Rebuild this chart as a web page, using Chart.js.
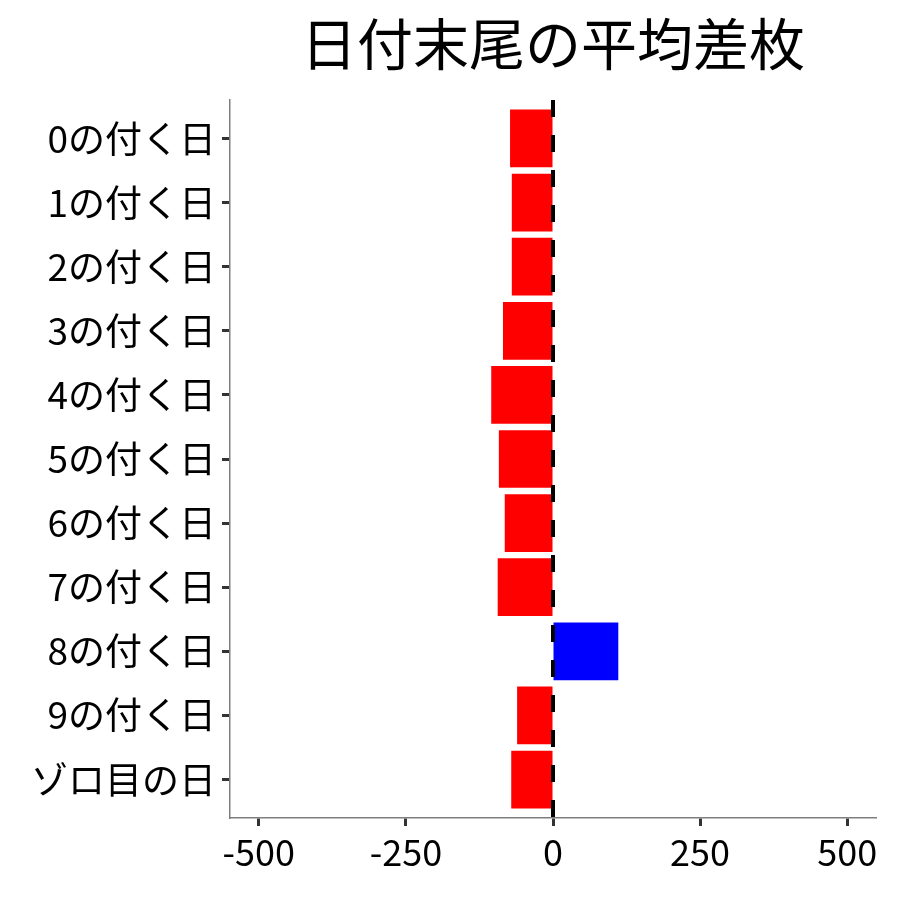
<!DOCTYPE html>
<html>
<head>
<meta charset="utf-8">
<script src="https://cdn.jsdelivr.net/npm/chart.js@4"></script>
<style>
  body { margin: 0; background: #fff; }
  #wrap { width: 900px; height: 900px; }
</style>
</head>
<body>
<div id="wrap"><canvas id="myChart" width="900" height="900"></canvas></div>
<script>
// data
var labels = ["0の付く日", "1の付く日", "2の付く日", "3の付く日", "4の付く日",
              "5の付く日", "6の付く日", "7の付く日", "8の付く日", "9の付く日", "ゾロ目の日"];
var diffValues = [-73, -70, -70, -85, -105, -92, -82, -94, 111, -61, -71];
var xTicks = [-500, -250, 0, 250, 500];
var titleText = "日付末尾の平均差枚";

var FONT = "'Noto Sans CJK JP', 'Noto Sans', sans-serif";

var barColors = diffValues.map(function(v){ return v < 0 ? "#FF0000" : "#0000FF"; });

// title centred over the plot area, like ggplot does
var titlePlugin = {
    id: 'plotTitle',
    afterDraw: function(chart){
        var c = chart.ctx, a = chart.chartArea;
        c.save();
        c.font = "56px " + FONT;
        c.fillStyle = "#000";
        c.textAlign = "center";
        c.textBaseline = "middle";
        c.fillText(titleText, (a.left + a.right) / 2, 44);
        c.restore();
    }
};

// dashed vertical line at zero
var zeroLine = {
    id: 'zeroLine',
    afterDatasetsDraw: function(chart){
        var c = chart.ctx, a = chart.chartArea;
        var x = chart.scales.x.getPixelForValue(0);
        c.save();
        c.strokeStyle = "#000";
        c.lineWidth = 4;
        c.setLineDash([17, 18]);
        c.beginPath();
        c.moveTo(x, a.top);
        c.lineTo(x, a.bottom);
        c.stroke();
        c.restore();
    }
};

var ctx = document.getElementById("myChart");
var myChart = new Chart(ctx, {
    type: 'bar',
    data: {
        labels: labels,
        datasets: [{
            data: diffValues,
            backgroundColor: barColors,
            borderWidth: 0,
            barPercentage: 0.9,
            categoryPercentage: 1.0
        }]
    },
    options: {
        indexAxis: 'y',
        responsive: false,
        animation: false,
        devicePixelRatio: 1,
        layout: { padding: { top: 100, right: 24, bottom: 0, left: 0 } },
        plugins: {
            legend: { display: false },
            tooltip: { enabled: false },
            title: { display: false }
        },
        scales: {
            x: {
                min: -549,
                max: 549,
                afterBuildTicks: function(scale){
                    scale.ticks = xTicks.map(function(v){ return { value: v }; });
                },
                afterFit: function(scale){ scale.height = 82; },
                grid: { drawOnChartArea: false, tickLength: 8, tickWidth: 3, tickColor: "#333" },
                border: { color: "#7f7f7f", width: 1.5 },
                ticks: {
                    color: "#000",
                    padding: 5,
                    maxRotation: 0,
                    font: { family: FONT, size: 36 }
                }
            },
            y: {
                afterFit: function(scale){
                    scale.width = 230;
                    // ggplot-style discrete expansion of 0.6 on each side
                    scale._startValue = -0.6;
                    scale._valueRange = labels.length - 1 + 1.2;
                },
                grid: { drawOnChartArea: false, offset: false, tickLength: 8, tickWidth: 3, tickColor: "#333" },
                border: { color: "#7f7f7f", width: 1.5 },
                ticks: {
                    color: "#000",
                    padding: 6,
                    font: { family: FONT, size: 37 }
                }
            }
        }
    },
    plugins: [titlePlugin, zeroLine]
});
</script>
</body>
</html>
